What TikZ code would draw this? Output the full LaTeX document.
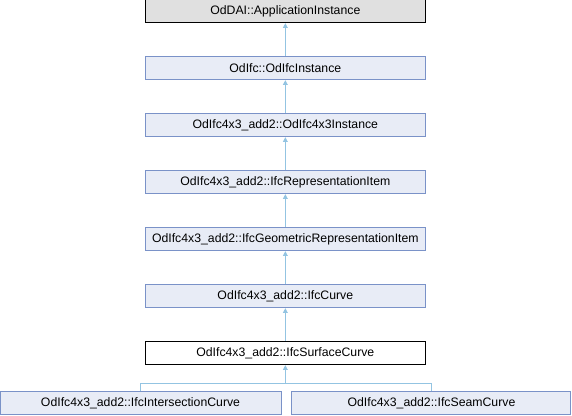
\documentclass[tikz,border=0pt]{standalone}
\usepackage{fontspec}
\setmainfont{Liberation Sans}
\usetikzlibrary{positioning,arrows.meta}
\definecolor{BoxBorder}{RGB}{122,146,200}
\definecolor{BoxFill}{RGB}{232,236,246}
\definecolor{TopFill}{RGB}{224,224,224}
\definecolor{LinkBlue}{RGB}{147,196,226}
\tikzset{
  inherit/.style={{Triangle[length=3.5pt,width=3.5pt]}-,draw=LinkBlue,line width=0.75pt},
  link/.style={draw=LinkBlue,line width=0.75pt},
  classbox/.style={draw=BoxBorder,fill=BoxFill,line width=0.75pt,inner sep=0pt,
    minimum width=210pt,minimum height=17pt,font=\fontsize{9.2}{11}\selectfont},
  topbox/.style={classbox,draw=black,fill=TopFill},
  curbox/.style={classbox,draw=black,fill=white}
}

\begin{document}
\begin{tikzpicture}[node distance=25pt]
  \useasboundingbox (0,0) rectangle (429pt,-312pt);
  \node[topbox] (appinst) at (214pt,-8.5pt) {OdDAI::ApplicationInstance};
  \node[classbox,below=of appinst] (ifcinst) {OdIfc::OdIfcInstance};
  \node[classbox,below=of ifcinst] (x3inst) {OdIfc4x3\_add2::OdIfc4x3Instance};
  \node[classbox,below=of x3inst] (repitem) {OdIfc4x3\_add2::IfcRepresentationItem};
  \node[classbox,below=of repitem] (georep) {OdIfc4x3\_add2::IfcGeometricRepresentationItem};
  \node[classbox,below=of georep] (curve) {OdIfc4x3\_add2::IfcCurve};
  \node[curbox,below=of curve] (surface) {OdIfc4x3\_add2::IfcSurfaceCurve};
  \node[classbox,minimum width=210.75pt] (intersect) at (105.4pt,-302.5pt) {OdIfc4x3\_add2::IfcIntersectionCurve};
  \node[classbox,minimum width=209.25pt] (seam) at (323.6pt,-302.5pt) {OdIfc4x3\_add2::IfcSeamCurve};

  \draw[inherit] (appinst) -- (ifcinst);
  \draw[inherit] (ifcinst) -- (x3inst);
  \draw[inherit] (x3inst) -- (repitem);
  \draw[inherit] (repitem) -- (georep);
  \draw[inherit] (georep) -- (curve);
  \draw[inherit] (curve) -- (surface);

  \coordinate[below=13.5pt of surface.south] (fork);
  \draw[inherit] (surface) -- (fork) -| (intersect);
  \draw[link] (fork) -| (seam);
\end{tikzpicture}
\end{document}
